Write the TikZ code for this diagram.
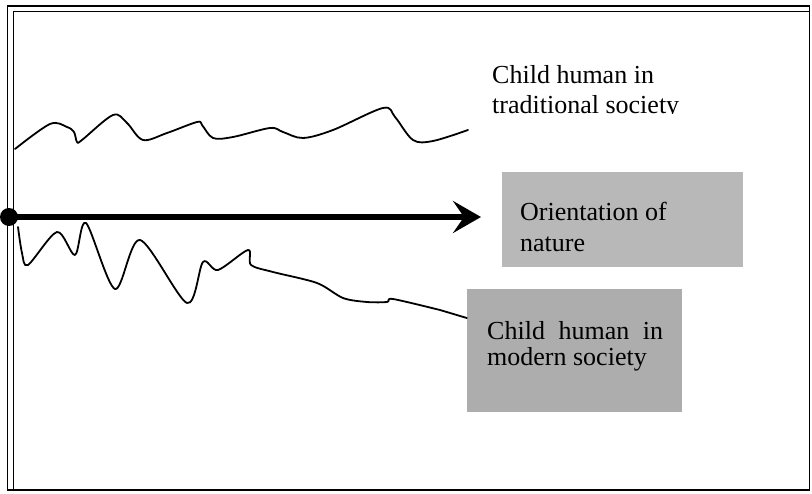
\documentclass[tikz,border=0pt]{standalone}
\usepackage{fontspec}
\setmainfont{Liberation Serif}
\usetikzlibrary{arrows.meta}
\definecolor{boxgrayA}{gray}{0.72}
\definecolor{boxgrayB}{gray}{0.68}
\tikzset{
  frameline/.style={line width=1.6pt, black},
  wave/.style={line width=1.8pt, black, line join=round, line cap=round},
  lbl/.style={anchor=base west, inner sep=0pt, font=\fontsize{26}{30}\selectfont},
  grey box/.style={draw=none, rectangle, inner sep=0pt},
}
\begin{document}
\begin{tikzpicture}[x=1pt,y=-1pt]
\useasboundingbox (0,0) rectangle (812,494);
% double frame
\draw[frameline] (7.5,6) rectangle (809.5,490);
\draw[frameline] (13.5,490) -- (13.5,11.5) -- (809.5,11.5);

% shaded boxes
\node[grey box, fill=boxgrayA, minimum width=241pt, minimum height=95pt] (orient) at (622.5,219.5) {};
\node[grey box, fill=boxgrayB, minimum width=215pt, minimum height=123pt] (modern) at (574.5,350.5) {};

% labels
\begin{scope}
\clip (480,40) rectangle (720,114);
\node[lbl] (trad1) at (492,84) {Child human in};
\node[lbl] (trad2) at (492,113.5) {traditional society};
\end{scope}
\node[lbl] (or1) at (520,220.5) {Orientation of};
\node[lbl] (or2) at (520,251.5) {nature};
\node[lbl] (mo1) at (487,340) {\makebox[176pt][s]{Child human in}};
\node[lbl] (mo2) at (487,366) {modern society};

% upper wavy line (traditional)
\draw[wave] plot[smooth, tension=0.55] coordinates {
 (15,149) (50,124) (67,127) (74,132) (77,142) (82,140) (113,115) (127,123)
 (143,140) (167,133) (197,122) (202,125) (213,138) (233,137) (270,128)
 (283,132) (303,138) (333,130) (383,108) (395,117) (413,140) (433,141) (468,130)};

% origin dot and thick arrow
\node[circle, fill=black, inner sep=0pt, minimum size=18pt] (origin) at (9,217) {};
\coordinate (tip) at (481,217);
\draw[line width=5.5pt, -{Stealth[length=28pt, width=32pt, inset=11pt]}] (origin.center) -- (tip);

% lower wavy line (modern)
\draw[wave] plot[smooth, tension=0.5] coordinates {
 (18,227) (22,253) (28,265) (57,232) (75,255) (86,223) (115,289) (140,240)
 (187,303) (203,262) (218,270) (248,250) (251,265) (273,272) (317,283)
 (343,298) (367,302) (387,302) (393,299) (440,310)} -- (modern.west |- 0,318);
\end{tikzpicture}
\end{document}
